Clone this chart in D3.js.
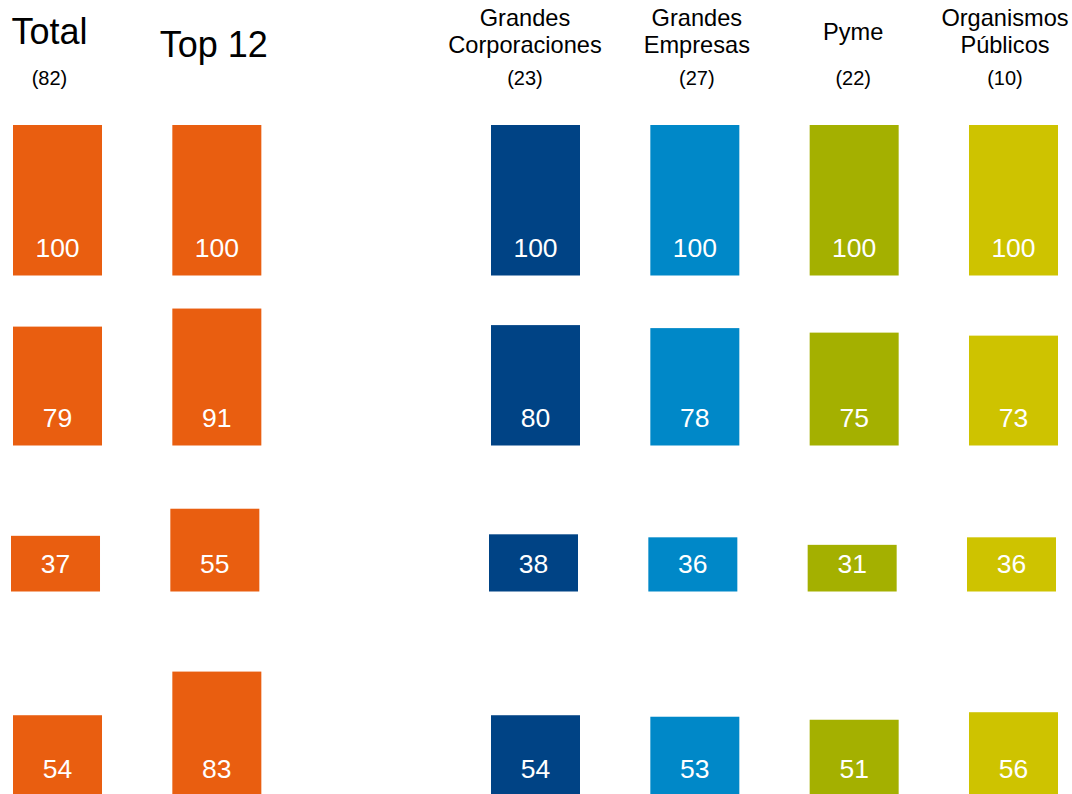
<!DOCTYPE html>
<html>
<head>
<meta charset="utf-8">
<script src="https://cdn.jsdelivr.net/npm/d3@7"></script>
<style>
  body { margin: 0; background: #fff; }
  svg text { font-family: "Liberation Sans", Arial, sans-serif; }
</style>
</head>
<body>
<div id="chart"></div>
<script>
// columns (slot "gap" stays empty)
var columns = ["Total", "Top 12", "gap", "GC", "GE", "Pyme", "OP"];
var headerLines = {
	"Total": ["Total"],
	"Top 12": ["Top 12"],
	"GC": ["Grandes", "Corporaciones"],
	"GE": ["Grandes", "Empresas"],
	"Pyme": ["Pyme"],
	"OP": ["Organismos", "Públicos"]
};
var counts = { "Total": 82, "GC": 23, "GE": 27, "Pyme": 22, "OP": 10 };

// values per row, top to bottom
var totalValues = [100, 79, 37, 54];
var top12Values = [100, 91, 55, 83];
var gcValues    = [100, 80, 38, 54];
var geValues    = [100, 78, 36, 53];
var pymeValues  = [100, 75, 31, 51];
var opValues    = [100, 73, 36, 56];

var seriesValues = {
	"Total": totalValues, "Top 12": top12Values,
	"GC": gcValues, "GE": geValues, "Pyme": pymeValues, "OP": opValues
};

var colors = {
	"Total": "#E95E10", "Top 12": "#E95E10", "GC": "#004385",
	"GE": "#0088C8", "Pyme": "#A4B000", "OP": "#CEC300"
};

// layout
var W = 1072, H = 794;
var rowBase = [275.5, 445.5, 591.5, 796.5];
var rowDx = [0, 0, -2, 0];
var headerDx = { "Total": -8, "Top 12": -3, "GC": -10.5, "GE": 2, "Pyme": -1, "OP": -8.5 };

var svg = d3.select("#chart").append("svg").attr("width", W).attr("height", H);

var x = d3.scaleBand().domain(columns).range([13, 1058]).paddingInner(0.4414).paddingOuter(0);
var h = d3.scaleLinear().domain([0, 100]).range([0, 150.5]);

var cells = [];
columns.forEach(function(c){
	if(!seriesValues[c]) return;
	seriesValues[c].forEach(function(v, i){
		cells.push({col: c, row: i, value: v});
	});
});

var g = svg.selectAll("g.cell").data(cells).enter().append("g").attr("class", "cell");

g.append("rect")
	.attr("x", function(d){ return x(d.col) + rowDx[d.row]; })
	.attr("y", function(d){ return rowBase[d.row] - h(d.value); })
	.attr("width", x.bandwidth())
	.attr("height", function(d){ return h(d.value); })
	.style("fill", function(d){ return colors[d.col]; });

g.append("text")
	.attr("x", function(d){ return x(d.col) + rowDx[d.row] + x.bandwidth()/2; })
	.attr("y", function(d){ return rowBase[d.row] - 19; })
	.attr("text-anchor", "middle")
	.style("font-size", "26.5px")
	.style("fill", "#fff")
	.text(function(d){ return d.value; });

// headers
columns.forEach(function(c){
	if(!headerLines[c]) return;
	var cx = x(c) + x.bandwidth()/2 + headerDx[c];
	var lines = headerLines[c];
	if(c == "Total" || c == "Top 12"){
		svg.append("text").attr("x", cx).attr("y", c == "Total" ? 44 : 57)
			.attr("text-anchor", "middle")
			.style("font-size", "36px")
			.style("fill", "#000").text(lines[0]);
	}else{
		var ys = lines.length == 2 ? [26, 53] : [39.5];
		lines.forEach(function(l, i){
			svg.append("text").attr("x", cx).attr("y", ys[i])
				.attr("text-anchor", "middle")
				.style("font-size", "23.6px")
				.style("fill", "#000").text(l);
		});
	}
	if(counts[c] != null){
		svg.append("text").attr("x", cx).attr("y", 85)
			.attr("text-anchor", "middle")
			.style("font-size", "20px")
			.style("fill", "#000").text("(" + counts[c] + ")");
	}
});
</script>
</body>
</html>
